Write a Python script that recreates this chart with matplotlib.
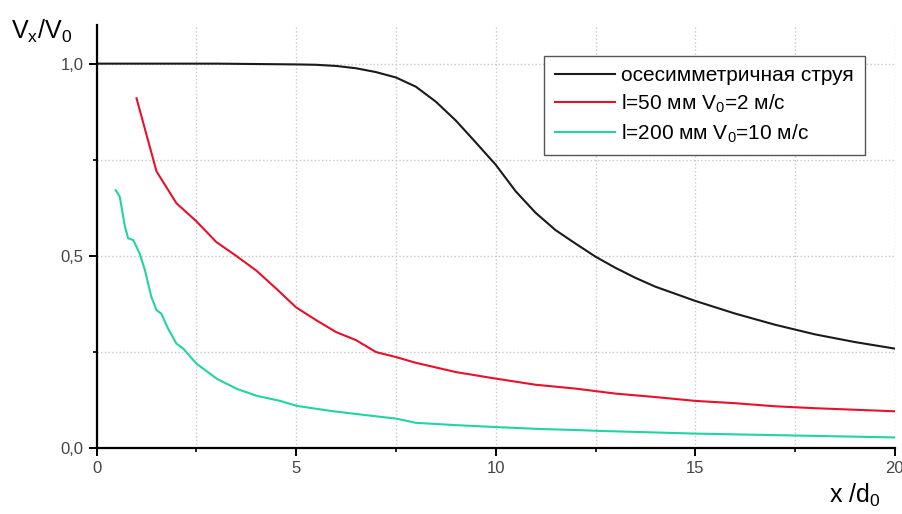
import matplotlib
matplotlib.use("Agg")
import matplotlib.pyplot as plt
from matplotlib.ticker import MultipleLocator, FuncFormatter

plt.rcParams['font.family'] = ['Liberation Sans', 'DejaVu Sans']
plt.rcParams['mathtext.fontset'] = 'custom'
plt.rcParams['mathtext.rm'] = 'Liberation Sans'
plt.rcParams['mathtext.it'] = 'Liberation Sans'

# axisymmetric jet (black)
x_jet = [0, 1, 2, 3, 4, 5, 5.5, 6, 6.5, 7, 7.5, 8, 8.5, 9, 9.5, 10, 10.5, 11,
         11.5, 12, 12.5, 13, 13.5, 14, 15, 16, 17, 18, 19, 20]
y_jet = [1.0, 1.0, 1.0, 1.0, 0.999, 0.998, 0.997, 0.994, 0.988, 0.978, 0.964,
         0.94, 0.901, 0.852, 0.795, 0.737, 0.668, 0.612, 0.567, 0.532, 0.498,
         0.469, 0.443, 0.42, 0.383, 0.35, 0.321, 0.296, 0.276, 0.259]

# l=50 mm, V0=2 m/s (red)
x_50 = [1.0, 1.5, 2.0, 2.5, 3.0, 3.5, 4.0, 4.5, 5.0, 5.5, 6.0, 6.5, 7.0, 7.5,
        8, 9, 10, 11, 12, 13, 14, 15, 16, 17, 18, 19, 20]
y_50 = [0.91, 0.72, 0.637, 0.59, 0.536, 0.50, 0.462, 0.415, 0.366, 0.333,
        0.302, 0.281, 0.25, 0.237, 0.222, 0.198, 0.181, 0.165, 0.155, 0.142,
        0.133, 0.123, 0.117, 0.109, 0.104, 0.100, 0.096]

# l=200 mm, V0=10 m/s (cyan)
x_200 = [0.48, 0.58, 0.71, 0.79, 0.92, 1.08, 1.21, 1.37, 1.5, 1.62, 1.79, 2.0,
         2.17, 2.5, 3.02, 3.52, 4.02, 4.6, 5.02, 5.86, 6.75, 7.5, 8.0, 9.0,
         10, 11.1, 12.1, 12.6, 15, 17.5, 20]
y_200 = [0.671, 0.654, 0.576, 0.546, 0.541, 0.506, 0.463, 0.394, 0.359, 0.35,
         0.311, 0.272, 0.259, 0.22, 0.18, 0.154, 0.136, 0.123, 0.110, 0.097,
         0.086, 0.077, 0.066, 0.060, 0.055, 0.050, 0.047, 0.045, 0.038, 0.033,
         0.028]

labels = ['осесимметричная струя',
          r'l=50 мм V$_{\mathregular{0}}$=2 м/с',
          r'l=200 мм V$_{\mathregular{0}}$=10 м/с']

fig = plt.figure(figsize=(9.03, 5.14), dpi=100)
ax = fig.add_axes([0.107, 0.128, 0.884, 0.823])

ax.plot(x_jet, y_jet, color='#1a1a1a', lw=1.5, label=labels[0])
ax.plot(x_50, y_50, color='#e8102a', lw=1.5, label=labels[1])
ax.plot(x_200, y_200, color='#22d4a4', lw=1.5, label=labels[2])

ax.set_xlim(0, 20)
ax.set_ylim(0, 1.1)
ax.xaxis.set_major_locator(MultipleLocator(5))
ax.xaxis.set_minor_locator(MultipleLocator(2.5))
ax.yaxis.set_major_locator(MultipleLocator(0.5))
ax.yaxis.set_minor_locator(MultipleLocator(0.25))
ax.yaxis.set_major_formatter(FuncFormatter(lambda v, p: f"{v:.1f}".replace('.', ',')))

ax.grid(True, which='both', color='#c8c8c8', ls=':', lw=1)
ax.set_axisbelow(True)
for s in ['top', 'right']:
    ax.spines[s].set_visible(False)
for s in ['left', 'bottom']:
    ax.spines[s].set_linewidth(1.6)
ax.tick_params(which='major', direction='out', length=6, width=1.4,
               labelsize=12, labelcolor='#444444')
ax.tick_params(which='minor', direction='out', length=3, width=1.2)

fig.text(0.012, 0.925, r'V$_{\mathregular{x}}$/V$_{\mathregular{0}}$', fontsize=18)
fig.text(0.918, 0.022, r'x /d$_{\mathregular{0}}$', fontsize=18)

leg = ax.legend(loc='upper right', bbox_to_anchor=(0.962, 0.927),
                borderaxespad=0, fontsize=15, fancybox=False,
                edgecolor='#555555', framealpha=1, handlelength=2.9,
                handletextpad=0.3, labelspacing=0.35, borderpad=0.5)
leg.get_frame().set_linewidth(1.0)

fig.savefig('out.png', dpi=100)
